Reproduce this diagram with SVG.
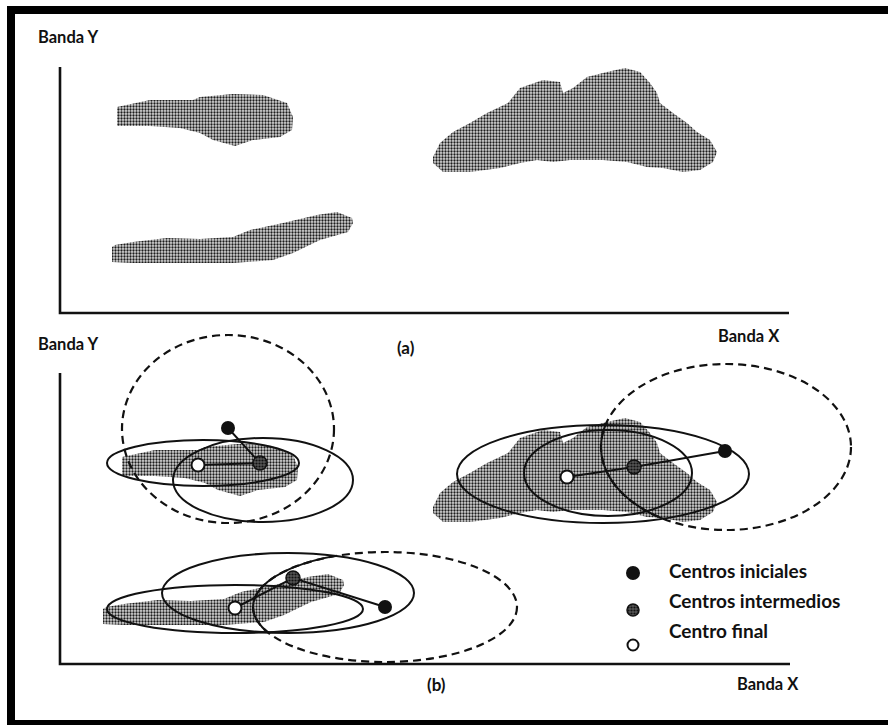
<svg xmlns="http://www.w3.org/2000/svg" width="888" height="725" viewBox="0 0 888 725">
<style>
.lbl{font-family:Lato,"Open Sans","Liberation Sans",sans-serif;font-weight:bold;fill:#111}
.ax{stroke:#111;stroke-width:2.6;fill:none}
.el{stroke:#111;stroke-width:2;fill:none}
.dash{stroke:#111;stroke-width:2.2;fill:none;stroke-dasharray:8 5}
.link{stroke:#111;stroke-width:2;fill:none}
.shade{fill:url(#dots)}
</style>
<defs>
<pattern id="dots" width="3" height="3" patternUnits="userSpaceOnUse">
<rect width="3" height="3" fill="#d8d8d8"/>
<circle cx="1.5" cy="1.5" r="1.15" fill="#1c1c1c"/>
</pattern>
<pattern id="hatch" width="3" height="3" patternUnits="userSpaceOnUse">
<rect width="3" height="3" fill="#555"/>
<circle cx="1.5" cy="1.5" r="1.1" fill="#111"/>
</pattern>
<path id="blobA" d="M117,107 L150,100 L193,100 L200,97 L233,94 L263,95 L287,103 L293,117 L292,130 L280,137 L253,140 L235,146 L213,140 L200,133 L180,128 L150,126 L117,126 Z"/>
<path id="blobB" d="M112,247 L115,245 L133,242 L167,238 L200,239 L233,237 L250,230 L283,223 L317,215 L337,212 L352,218 L353,223 L348,232 L320,240 L293,253 L273,260 L233,263 L200,263 L167,263 L133,263 L112,262 Z"/>
<path id="blobC" d="M433,157 L440,143 L453,132 L470,123 L487,113 L508,103 L520,88 L543,80 L560,82 L563,93 L573,88 L587,77 L607,72 L625,68 L640,72 L650,83 L657,93 L660,103 L673,113 L687,123 L697,132 L710,140 L717,152 L713,162 L700,170 L683,172 L663,168 L647,167 L627,162 L603,160 L570,160 L553,162 L537,160 L520,163 L500,168 L470,172 L443,172 L433,163 Z"/>
<clipPath id="clipR"><ellipse cx="603" cy="474" rx="146" ry="49"/></clipPath>
<clipPath id="clipB"><ellipse cx="288" cy="593" rx="126" ry="40"/></clipPath>
</defs>

<g id="frame" fill="#000">
<rect x="7" y="6" width="881" height="8"/>
<rect x="7" y="6" width="8" height="719"/>
<rect x="7" y="720" width="881" height="5"/>
</g>

<g id="panel-a">
<path class="ax" d="M60,67 L60,313 L789,313"/>
<text class="lbl" x="38" y="43" font-size="16.5">Banda Y</text>
<text class="lbl" x="718" y="342" font-size="16.5">Banda X</text>
<text class="lbl" x="397" y="354" font-size="17">(a)</text>
<g id="cluster-a1"><use href="#blobA" class="shade"/></g>
<g id="cluster-a2"><use href="#blobB" class="shade"/></g>
<g id="cluster-a3"><use href="#blobC" class="shade"/></g>
</g>

<g id="panel-b">
<path class="ax" d="M60,373 L60,664 L790,664"/>
<text class="lbl" x="38" y="350" font-size="16.5">Banda Y</text>
<text class="lbl" x="737" y="690" font-size="16.5">Banda X</text>
<text class="lbl" x="427" y="691" font-size="17">(b)</text>

<g id="cluster-b1">
<use href="#blobA" class="shade" transform="translate(5,350)"/>
<ellipse class="dash" cx="228" cy="429" rx="106" ry="94"/>
<ellipse class="el" cx="203" cy="463" rx="96" ry="23"/>
<ellipse class="el" cx="263" cy="480" rx="90" ry="42"/>
</g>

<g id="cluster-b2">
<use href="#blobC" class="shade" transform="translate(0,350)"/>
<ellipse class="dash" cx="726" cy="447" rx="125" ry="83"/>
<ellipse class="el" cx="726" cy="447" rx="125" ry="83" clip-path="url(#clipR)" stroke-width="1.6"/>
<ellipse class="el" cx="603" cy="474" rx="146" ry="49"/>
<ellipse class="el" cx="608" cy="473" rx="84" ry="43"/>
</g>

<g id="cluster-b3">
<use href="#blobB" class="shade" transform="translate(-9,362)"/>
<ellipse class="dash" cx="385" cy="607" rx="132" ry="55"/>
<ellipse class="el" cx="385" cy="607" rx="132" ry="55" clip-path="url(#clipB)" stroke-width="1.6"/>
<ellipse class="el" cx="288" cy="593" rx="126" ry="40"/>
<ellipse class="el" cx="235" cy="609" rx="128" ry="24"/>
</g>

<g id="connectors">
<path class="link" d="M228,428 L260,463 L198,465"/>
<path class="link" d="M725,451 L634,467 L567,477"/>
<path class="link" d="M385,607 L293,578 L235,608"/>
</g>

<g id="centers">
<circle cx="228" cy="428" r="7" fill="#111"/>
<circle cx="260" cy="463" r="7" fill="url(#hatch)" stroke="#111" stroke-width="1.5"/>
<circle cx="198" cy="465" r="6.5" fill="#fff" stroke="#111" stroke-width="2"/>
<circle cx="725" cy="451" r="7" fill="#111"/>
<circle cx="634" cy="467" r="7" fill="url(#hatch)" stroke="#111" stroke-width="1.5"/>
<circle cx="567" cy="477" r="6.5" fill="#fff" stroke="#111" stroke-width="2"/>
<circle cx="385" cy="607" r="7" fill="#111"/>
<circle cx="293" cy="578" r="7" fill="url(#hatch)" stroke="#111" stroke-width="1.5"/>
<circle cx="235" cy="608" r="6.5" fill="#fff" stroke="#111" stroke-width="2"/>
</g>

<g id="legend">
<circle cx="633" cy="573" r="7" fill="#111"/>
<circle cx="633" cy="610" r="6" fill="url(#hatch)" stroke="#111" stroke-width="1.5"/>
<circle cx="633" cy="645" r="5.5" fill="#fff" stroke="#111" stroke-width="2"/>
<text class="lbl" x="669" y="578" font-size="19">Centros iniciales</text>
<text class="lbl" x="669" y="608" font-size="19">Centros intermedios</text>
<text class="lbl" x="669" y="638" font-size="19">Centro final</text>
</g>
</g>
</svg>
